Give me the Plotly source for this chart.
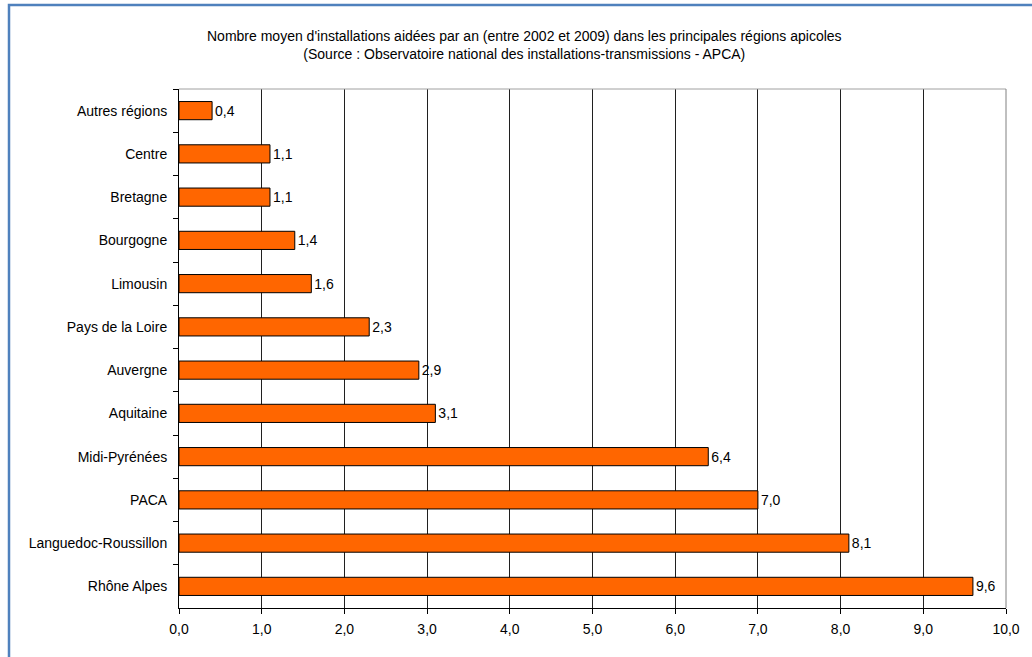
import plotly.graph_objects as go

# Regions, top to bottom, and average number of aided installations per year
regions = [
    "Autres régions", "Centre", "Bretagne", "Bourgogne", "Limousin",
    "Pays de la Loire", "Auvergne", "Aquitaine", "Midi-Pyrénées", "PACA",
    "Languedoc-Roussillon", "Rhône Alpes",
]
installations = [0.4, 1.1, 1.1, 1.4, 1.6, 2.3, 2.9, 3.1, 6.4, 7.0, 8.1, 9.6]

x_ticks = [0, 1, 2, 3, 4, 5, 6, 7, 8, 9, 10]

title_lines = [
    "Nombre moyen d'installations aidées par an (entre 2002 et 2009) dans les principales régions apicoles",
    "(Source : Observatoire national des installations-transmissions - APCA)",
]

W, H = 1032, 657
L, R, T, B = 179, 26, 89, 49
pw, ph = W - L - R, H - T - B

def px_to_paper_x(px):
    return (px - L) / pw

def px_to_paper_y(py):
    return 1 - (py - T) / ph

font = dict(family="Liberation Sans, Arial, sans-serif", size=14, color="#000000")

fig = go.Figure(
    go.Bar(
        y=regions,
        x=installations,
        orientation="h",
        marker=dict(color="#FF6600", line=dict(color="#000000", width=1)),
        text=[f"{v:.1f}".replace(".", ",") for v in installations],
        textposition="outside",
        textfont=font,
        cliponaxis=False,
        width=0.42,
    )
)

fig.update_layout(
    width=W,
    height=H,
    margin=dict(l=L, r=R, t=T, b=B, pad=0),
    paper_bgcolor="#FFFFFF",
    plot_bgcolor="#FFFFFF",
    font=font,
    separators=", ",
    showlegend=False,
    annotations=[
        dict(
            text="<br>".join(title_lines),
            x=px_to_paper_x(524), y=px_to_paper_y(45),
            xref="paper", yref="paper",
            xanchor="center", yanchor="middle",
            showarrow=False,
            font=font,
        )
    ],
    shapes=[
        # outer frame
        dict(
            type="rect", xref="paper", yref="paper",
            x0=px_to_paper_x(9), x1=px_to_paper_x(W + 40),
            y0=px_to_paper_y(H + 40), y1=px_to_paper_y(5),
            line=dict(color="#4F81BD", width=2.5),
            fillcolor="rgba(0,0,0,0)",
            layer="below",
        ),
        # plot area top and right borders
        dict(
            type="line", xref="paper", yref="paper",
            x0=0, x1=1, y0=1, y1=1,
            line=dict(color="#A0A0A0", width=1),
        ),
        dict(
            type="line", xref="paper", yref="paper",
            x0=1, x1=1, y0=0, y1=1,
            line=dict(color="#808080", width=1),
        ),
    ],
)

fig.update_xaxes(
    range=[0, 10],
    tickvals=x_ticks,
    tickformat=".1f",
    showgrid=True,
    gridcolor="#202020",
    gridwidth=1,
    zeroline=False,
    showline=True,
    linecolor="#000000",
    linewidth=1,
    ticks="outside",
    ticklen=5,
    tickcolor="#000000",
    tickfont=font,
    ticklabelstandoff=3,
)

fig.update_yaxes(
    categoryorder="array",
    categoryarray=regions,
    autorange="reversed",
    showgrid=False,
    zeroline=False,
    showline=True,
    linecolor="#000000",
    linewidth=1,
    ticks="outside",
    ticklen=5,
    tickcolor="#000000",
    tickson="boundaries",
    tickfont=font,
    ticklabelstandoff=8,
)

fig.write_html("out.html")
